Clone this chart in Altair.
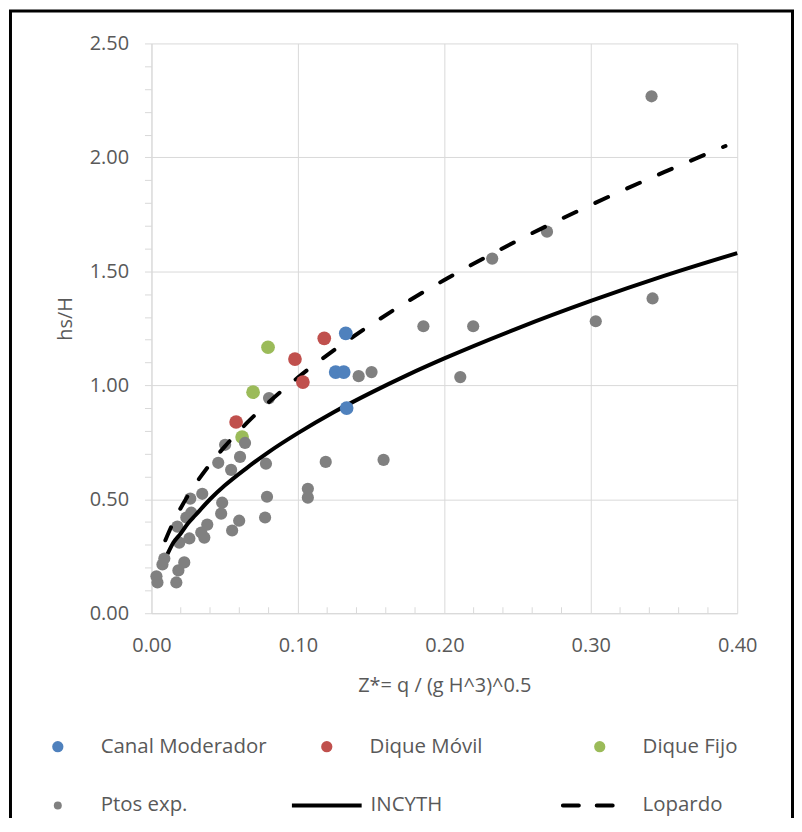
import altair as alt
import pandas as pd

# ---------------- data ----------------
ptos_x = [0.3415, 0.3422, 0.3034, 0.2701, 0.2327, 0.2197, 0.2109, 0.1857, 0.1585, 0.1503,
          0.1415, 0.1190, 0.1068, 0.1068, 0.0803, 0.0782, 0.0789, 0.0776, 0.0639, 0.0605,
          0.0599, 0.0544, 0.0503, 0.0456, 0.0483, 0.0476, 0.0551, 0.0381, 0.0361, 0.0340,
          0.0347, 0.0265, 0.0272, 0.0238, 0.0259, 0.0190, 0.0177, 0.0088, 0.0075, 0.0224,
          0.0184, 0.0034, 0.0041, 0.0170]
ptos_y = [2.268, 1.381, 1.281, 1.674, 1.556, 1.259, 1.036, 1.259, 0.673, 1.058,
          1.040, 0.664, 0.546, 0.507, 0.944, 0.656, 0.511, 0.420, 0.747, 0.686,
          0.406, 0.629, 0.739, 0.660, 0.485, 0.437, 0.363, 0.389, 0.332, 0.354,
          0.524, 0.503, 0.441, 0.420, 0.328, 0.310, 0.380, 0.240, 0.214, 0.223,
          0.188, 0.162, 0.135, 0.135]

canal_x = [0.1327, 0.1258, 0.1313, 0.1333]
canal_y = [1.228, 1.058, 1.058, 0.900]
movil_x = [0.1180, 0.0980, 0.1034, 0.0578]
movil_y = [1.206, 1.115, 1.014, 0.839]
fijo_x = [0.0796, 0.0694, 0.0619]
fijo_y = [1.167, 0.970, 0.773]

incyth_x = [0.011, 0.015, 0.02, 0.025, 0.03, 0.04, 0.05, 0.065, 0.08, 0.10,
            0.125, 0.15, 0.175, 0.20, 0.25, 0.30, 0.35, 0.40]
incyth_y = [0.26, 0.31, 0.35, 0.395, 0.43, 0.50, 0.56, 0.637, 0.707, 0.79,
            0.884, 0.968, 1.046, 1.118, 1.25, 1.37, 1.48, 1.58]
lopardo_x = [0.0095, 0.015, 0.02, 0.025, 0.03, 0.04, 0.05, 0.065, 0.08, 0.10,
             0.125, 0.15, 0.175, 0.20, 0.25, 0.30, 0.35, 0.392]
lopardo_y = [0.32, 0.40, 0.462, 0.517, 0.566, 0.654, 0.731, 0.834, 0.925, 1.034,
             1.156, 1.266, 1.368, 1.462, 1.635, 1.791, 1.935, 2.05]

x_major = [0.0, 0.1, 0.2, 0.3, 0.4]
x_minor = [0.02, 0.04, 0.06, 0.08, 0.12, 0.14, 0.16, 0.18, 0.22, 0.24, 0.26, 0.28,
           0.32, 0.34, 0.36, 0.38]
y_ticks = [0.0, 0.1, 0.2, 0.3, 0.4, 0.5, 0.6, 0.7, 0.8, 0.9, 1.0, 1.1, 1.2, 1.3,
           1.4, 1.5, 1.6, 1.7, 1.8, 1.9, 2.0, 2.1, 2.2, 2.3, 2.4, 2.5]

legend_labels = ["Canal Moderador", "Dique Móvil", "Dique Fijo",
                 "Ptos exp.", "INCYTH", "Lopardo"]

# ---------------- styling ----------------
W, H = 588, 572
FONT = "Open Sans"
TXT = "#595959"
GRID = "#d9d9d9"
C_BLUE, C_RED, C_GREEN, C_GREY = "#4F81BD", "#C0504D", "#9BBB59", "#808080"

xs = alt.Scale(domain=[0, 0.4], nice=False, zero=False, padding=0)
ys = alt.Scale(domain=[0, 2.5], nice=False, zero=False, padding=0)

major_test = "abs(datum.value*2 - round(datum.value*2)) < 0.001"
xaxis = alt.Axis(values=x_major, format=".2f", grid=True, gridColor=GRID, ticks=False,
                 tickSize=0, domainColor=GRID, labelFont=FONT, labelFontSize=20,
                 labelColor=TXT, labelPadding=22, labelFlush=False,
                 title="Z*= q / (g H^3)^0.5",
                 titleFont=FONT, titleFontSize=20, titleFontWeight="normal",
                 titleColor=TXT, titlePadding=21, labelOverlap=False)
yaxis = alt.Axis(values=y_ticks, grid=True, gridColor=GRID,
                 gridOpacity={"condition": {"test": major_test, "value": 1}, "value": 0},
                 labelExpr=f"{major_test} ? format(datum.value, '.2f') : ''",
                 tickColor=GRID, tickSize=7, domainColor=GRID, labelFont=FONT,
                 labelFontSize=20, labelColor=TXT, labelPadding=16, labelOverlap=False,
                 labelFlush=False,
                 title="hs/H", titleFont=FONT, titleFontSize=20, titleFontWeight="normal",
                 titleColor=TXT, titleX=-86, titleY=276, titleAlign="center",
                 titleBaseline="middle", titleAngle=-90)


def pts(xv, yv, color, size):
    df = pd.DataFrame({"x": xv, "y": yv})
    return alt.Chart(df).mark_circle(color=color, size=size, opacity=1).encode(
        x=alt.X("x:Q", scale=xs, axis=xaxis), y=alt.Y("y:Q", scale=ys, axis=yaxis))


def curve(xv, yv, dash=None):
    df = pd.DataFrame({"x": xv, "y": yv})
    kw = dict(color="black", strokeWidth=4, interpolate="monotone")
    if dash:
        kw.update(strokeDash=dash, strokeCap="round")
    return alt.Chart(df).mark_line(**kw).encode(
        x=alt.X("x:Q", scale=xs, axis=xaxis), y=alt.Y("y:Q", scale=ys, axis=yaxis))


minor = alt.Chart(pd.DataFrame({"t": x_minor})).mark_rule(color=GRID, strokeWidth=1).encode(
    x=alt.X("t:Q", scale=xs, axis=xaxis), y=alt.value(H - 6), y2=alt.value(H))

layers = [
    minor,
    pts(fijo_x, fijo_y, C_GREEN, 190),
    pts(ptos_x, ptos_y, C_GREY, 150),
    curve(incyth_x, incyth_y),
    curve(lopardo_x, lopardo_y, dash=[14, 21]),
    pts(movil_x, movil_y, C_RED, 190),
    pts(canal_x, canal_y, C_BLUE, 190),
]

# ---------------- legend (manual, Excel-like grid) ----------------
one = pd.DataFrame({"k": [0]})
col_sym = [-94, 176, 450]
col_txt = [-51, 219, 493]
row_y = [706, 765]
sym_colors = [C_BLUE, C_RED, C_GREEN]
for i in range(3):
    layers.append(alt.Chart(one).mark_circle(color=sym_colors[i], size=127, opacity=1).encode(
        x=alt.value(col_sym[i]), y=alt.value(row_y[0])))
layers.append(alt.Chart(one).mark_circle(color=C_GREY, size=64, opacity=1).encode(
    x=alt.value(col_sym[0]), y=alt.value(row_y[1])))
layers.append(alt.Chart(one).mark_rule(color="black", strokeWidth=4).encode(
    x=alt.value(141), x2=alt.value(211), y=alt.value(row_y[1])))
layers.append(alt.Chart(one).mark_rule(color="black", strokeWidth=4, strokeDash=[16, 18],
                                       strokeCap="round").encode(
    x=alt.value(413), x2=alt.value(463), y=alt.value(row_y[1])))
for idx, lab in enumerate(legend_labels):
    r, c = divmod(idx, 3)
    layers.append(alt.Chart(pd.DataFrame({"label": [lab]})).mark_text(
        align="left", baseline="middle", font=FONT, fontSize=20.5, color=TXT).encode(
        x=alt.value(col_txt[c] + (1 if (r == 1 and c == 1) else 0)), y=alt.value(row_y[r]),
        text="label:N"))

# ---------------- outer frame (left, top, right) ----------------
layers.append(alt.Chart(one).mark_rule(color="black", strokeWidth=3).encode(
    x=alt.value(-141.5), y=alt.value(-33), y2=alt.value(H + 210)))
layers.append(alt.Chart(one).mark_rule(color="black", strokeWidth=3).encode(
    x=alt.value(-143), x2=alt.value(645), y=alt.value(-32.5)))
layers.append(alt.Chart(one).mark_rule(color="black", strokeWidth=3).encode(
    x=alt.value(643.5), y=alt.value(-33), y2=alt.value(H + 210)))

chart = alt.layer(*layers).properties(
    width=W, height=H,
    autosize=alt.AutoSizeParams(type="none"),
    padding={"left": 144, "top": 34, "right": 57, "bottom": 204},
).configure_view(stroke=None)

chart.save("out.html", embed_options={"renderer": "svg", "actions": False})
